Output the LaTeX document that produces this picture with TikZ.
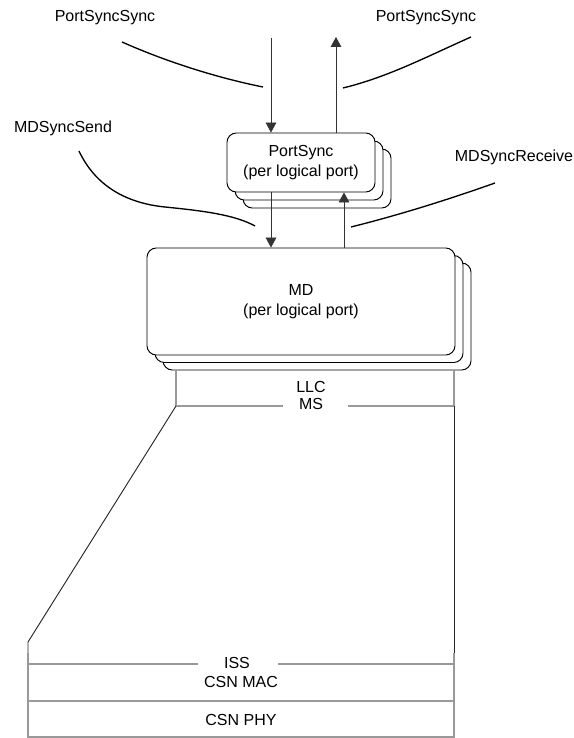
\documentclass[tikz,border=0pt]{standalone}
\usepackage{fontspec}
\setmainfont{Liberation Sans}
\usetikzlibrary{arrows.meta}
\tikzstyle{entity}=[draw=black,fill=white,rounded corners=7pt,align=center,inner sep=0pt,line width=0.7pt]
\tikzstyle{prim}=[line width=0.6pt,black!80,-{Triangle[width=8pt,length=7.5pt]}]
\tikzstyle{lead}=[line width=1pt]
\tikzstyle{layer}=[black!40,line width=0.9pt]
\tikzstyle{rim}=[black!85,line width=0.7pt]
\tikzstyle{lbl}=[inner sep=0pt,align=center]

\begin{document}
\begin{tikzpicture}[x=0.75pt,y=-0.75pt,font=\fontsize{12}{14.5}\selectfont]
	\useasboundingbox (0,0) rectangle (574,738);

	\def\psw{111pt}
	\def\psh{44.25pt}
	\def\mdw{231pt}
	\def\mdh{80.25pt}

	% PortSync, one box per logical port
	\node[entity,minimum width=\psw,minimum height=\psh] (ps3) at (317,178.5) {};
	\node[entity,minimum width=\psw,minimum height=\psh] (ps2) at (309,170.5) {};
	\node[entity,minimum width=\psw,minimum height=\psh] (ps) at (301,162.5) {PortSync\\(per logical port)};

	% MD, one box per logical port
	\node[entity,minimum width=\mdw,minimum height=\mdh] (md3) at (317,316.5) {};
	\node[entity,minimum width=\mdw,minimum height=\mdh] (md2) at (309,309) {};
	\node[entity,minimum width=\mdw,minimum height=\mdh] (md) at (301,301.5) {MD\\(per logical port)};

	% primitives
	\coordinate (psin) at (271,38);
	\coordinate (psout) at (336,37);
	\coordinate (mdout) at (344,0);
	\draw[prim] (psin) -- (psin |- ps.north);
	\draw[prim] (psout |- ps.north) -- (psout);
	\draw[prim] (psin |- ps.south) -- (psin |- md.north);
	\draw[prim] (mdout |- md.north) -- (mdout |- ps.south);

	% labels and leaders
	\node[lbl] (syncin) at (105,18) {PortSyncSync};
	\node[lbl] (syncout) at (426,18) {PortSyncSync};
	\node[lbl] (send) at (63,128) {MDSyncSend};
	\node[lbl] (recv) at (514,157) {MDSyncReceive};

	\coordinate (syncinA) at (122,42);
	\coordinate (syncoutA) at (471,37);
	\coordinate (sendA) at (79,151);
	\coordinate (recvA) at (495,183);
	\draw[lead] (syncinA) .. controls (167,62) and (218,78) .. (263,87);
	\draw[lead] (syncoutA) .. controls (426,57) and (388,77) .. (343,88);
	\draw[lead] (sendA) .. controls (95,185) and (125,203) .. (165,207) .. controls (205,211) and (235,215) .. (255,226);
	\draw[lead] (recvA) .. controls (447,200) and (399,215) .. (351,227);

	% LLC / MS
	\node[lbl] (llc) at (311,387) {LLC};
	\node[lbl] (ms) at (311,404) {MS};
	\draw[layer] (176,370) -- (176,406) -- (283,406);
	\draw[layer] (348,406) -- (454,406) -- (454,370);

	% down to the CSN stack
	\draw[rim] (176,406) -- (28,642) -- (28,653);
	\draw[rim] (454,406) -- (454,653);

	% ISS / CSN MAC / CSN PHY
	\node[lbl] (iss) at (237,663) {ISS};
	\node[lbl] (csnmac) at (241,682) {CSN MAC};
	\node[lbl] (csnphy) at (241,720) {CSN PHY};
	\draw[layer] (28,653) -- (28,737) -- (454,737) -- (454,653);
	\draw[layer] (28,664) -- (198,664);
	\draw[layer] (278,664) -- (454,664);
	\draw[layer] (28,701) -- (454,701);

\end{tikzpicture}
\end{document}
